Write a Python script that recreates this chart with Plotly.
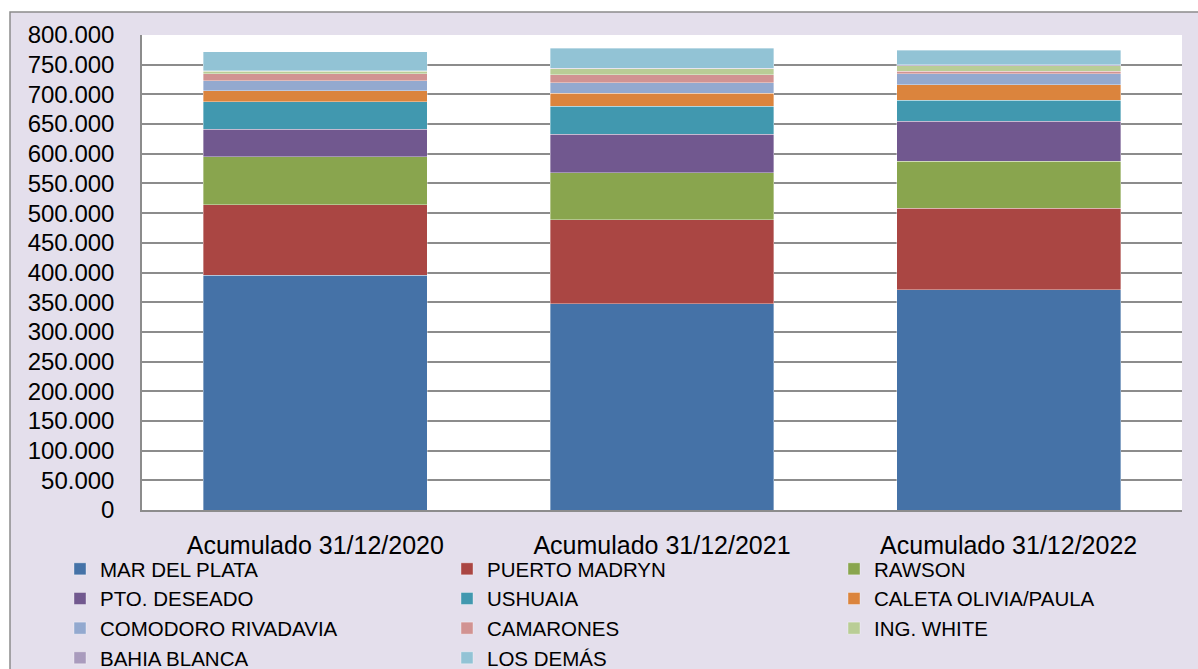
import plotly.graph_objects as go

categories = ["Acumulado 31/12/2020", "Acumulado 31/12/2021", "Acumulado 31/12/2022"]

series_names = [
    "MAR DEL PLATA", "PUERTO MADRYN", "RAWSON",
    "PTO. DESEADO", "USHUAIA", "CALETA OLIVIA/PAULA",
    "COMODORO RIVADAVIA", "CAMARONES", "ING. WHITE",
    "BAHIA BLANCA", "LOS DEMÁS",
]

mar_del_plata = [395000, 347000, 371000]
puerto_madryn = [119000, 142000, 137000]
rawson = [81000, 79000, 79000]
pto_deseado = [46000, 65000, 68000]
ushuaia = [47000, 47000, 35000]
caleta_olivia = [18000, 22000, 26000]
comodoro = [17000, 18000, 19000]
camarones = [12000, 13000, 4000]
ing_white = [4000, 10000, 9000]
bahia_blanca = [1000, 1000, 2000]
los_demas = [32000, 34000, 24000]

series_values = [
    mar_del_plata, puerto_madryn, rawson, pto_deseado, ushuaia, caleta_olivia,
    comodoro, camarones, ing_white, bahia_blanca, los_demas,
]

colors = [
    "#4572A7", "#AA4643", "#89A54E", "#71588F", "#4198AF", "#DB843D",
    "#93A9CF", "#D19392", "#B9CD96", "#A99BBD", "#92C3D5",
]

y_ticks = [0, 50000, 100000, 150000, 200000, 250000, 300000, 350000,
           400000, 450000, 500000, 550000, 600000, 650000, 700000, 750000, 800000]

FONT = "Liberation Sans"

fig = go.Figure()
for name, vals, col in zip(series_names, series_values, colors):
    fig.add_trace(go.Bar(
        x=categories, y=vals, name=name,
        marker=dict(color=col, line=dict(color="rgba(255,255,255,0.45)", width=0.8)),
    ))

W, H = 1198, 669
L, R, T, B = 142, 16, 35, 159
pw, ph = W - L - R, H - T - B

def px_x(p):
    return (p - L) / pw

def px_y(p):
    return (H - B - p) / ph

fig.update_layout(
    width=W, height=H,
    barmode="stack",
    bargap=0.354,
    separators=",.",
    paper_bgcolor="#E4DFEC",
    plot_bgcolor="white",
    margin=dict(l=L, r=R, t=T, b=B, pad=0, autoexpand=False),
    font=dict(family=FONT, color="black"),
    showlegend=True,
    legend=dict(
        orientation="h",
        xref="paper", yref="paper",
        x=px_x(60), xanchor="left",
        y=px_y(549), yanchor="top",
        entrywidth=342, entrywidthmode="pixels",
        font=dict(family=FONT, size=20.5, color="black"),
        bgcolor="rgba(0,0,0,0)",
        traceorder="normal",
        itemwidth=30,
        tracegroupgap=0,
    ),
    xaxis=dict(
        showgrid=False,
        showline=True, linecolor="#8C8C8C", linewidth=1.5,
        ticks="",
        tickfont=dict(family=FONT, size=25, color="black"),
        ticklabelstandoff=12,
        fixedrange=True,
    ),
    yaxis=dict(
        range=[0, 800000],
        tickvals=y_ticks,
        tickformat=",d",
        showgrid=True, gridcolor="#8C8C8C", gridwidth=1.5,
        showline=True, linecolor="#8C8C8C", linewidth=1.5,
        zeroline=False,
        ticks="",
        tickfont=dict(family=FONT, size=24, color="black"),
        ticklabelstandoff=21,
        fixedrange=True,
    ),
    shapes=[
        dict(type="rect", xref="paper", yref="paper", layer="below",
             x0=px_x(-5), x1=px_x(10), y0=px_y(-5), y1=px_y(H + 20),
             fillcolor="white", line=dict(width=0)),
        dict(type="rect", xref="paper", yref="paper", layer="below",
             x0=px_x(-5), x1=px_x(W + 20), y0=px_y(-5), y1=px_y(12),
             fillcolor="white", line=dict(width=0)),
        dict(type="rect", xref="paper", yref="paper", layer="below",
             x0=px_x(10), x1=px_x(W + 20), y0=px_y(12), y1=px_y(H + 20),
             fillcolor="rgba(0,0,0,0)", line=dict(color="#8C8C8C", width=1.5)),
    ],
)

fig.write_html(
    "out.html",
    config={"displayModeBar": False},
    post_script="document.body.style.margin='0';document.body.style.padding='0';",
)
